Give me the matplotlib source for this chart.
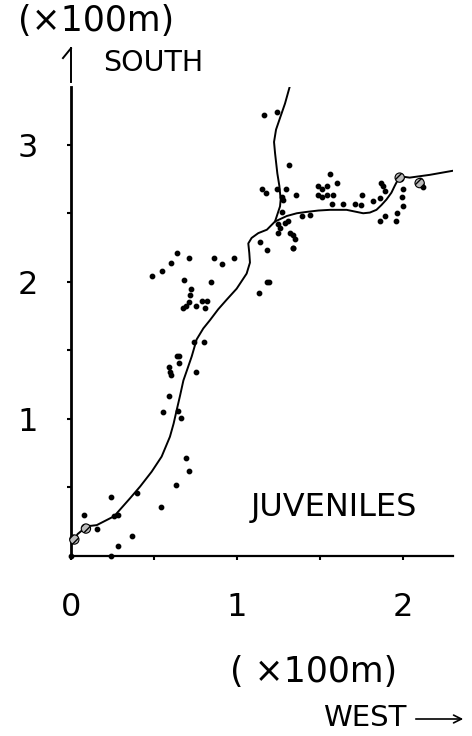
import matplotlib
matplotlib.use("Agg")
import matplotlib.pyplot as plt

# fitted track (x = west, y = south), units of 100 m
track_x = [0.0, 0.02, 0.04, 0.07, 0.09, 0.12, 0.155, 0.26, 0.355, 0.416, 0.486,
           0.546, 0.596, 0.618, 0.637, 0.657, 0.677, 0.70, 0.727, 0.757, 0.797, 0.837,
           0.887, 0.938, 0.998, 1.058, 1.078, 1.074, 1.068, 1.088, 1.128, 1.18,
           1.229, 1.30, 1.36, 1.42, 1.49, 1.56, 1.66, 1.72, 1.76, 1.80, 1.84, 1.87,
           1.90, 1.93, 1.95, 1.98, 2.04, 2.10, 2.16, 2.23, 2.30]
track_y = [0.08, 0.12, 0.16, 0.19, 0.22, 0.22, 0.225, 0.29, 0.42, 0.506, 0.615,
           0.725, 0.87, 0.965, 1.066, 1.17, 1.28, 1.36, 1.455, 1.58, 1.66, 1.72,
           1.80, 1.87, 1.95, 2.06, 2.14, 2.21, 2.28, 2.32, 2.355, 2.38,
           2.44, 2.48, 2.50, 2.51, 2.52, 2.525, 2.525, 2.51, 2.50, 2.505, 2.525, 2.56,
           2.60, 2.65, 2.70, 2.77, 2.76, 2.77, 2.78, 2.795, 2.81]

# northward branch leaving the main track
branch_x = [1.229, 1.259, 1.263, 1.255, 1.243, 1.229, 1.223, 1.235, 1.259, 1.289, 1.319]
branch_y = [2.44, 2.55, 2.60, 2.70, 2.79, 2.94, 3.02, 3.11, 3.195, 3.30, 3.43]

# individual fixes
fix_x = [0.0, 0.24, 0.08, 0.155, 0.24, 0.285, 0.26, 0.40, 0.366, 0.285, 0.54, 0.633,
         0.711, 0.691, 0.663, 0.643, 0.556, 0.59,
         0.60, 0.596, 0.59, 0.652, 0.64, 0.65, 0.753, 0.743, 0.80,
         0.677, 0.69, 0.713, 0.717, 0.721, 0.753, 0.787, 0.817, 0.809,
         0.681, 0.843, 0.486, 0.55, 0.602, 0.64, 0.713, 0.863, 0.91, 0.982,
         1.133, 1.179, 1.19, 1.14, 1.179, 1.336,
         1.165, 1.243, 1.313, 1.149, 1.175, 1.239, 1.293, 1.273, 1.28, 1.354,
         1.273, 1.249, 1.259, 1.249, 1.289, 1.31, 1.319, 1.339, 1.349, 1.339,
         1.39, 1.44, 1.49, 1.51, 1.54, 1.49, 1.51, 1.545, 1.56, 1.60, 1.576,
         1.57, 1.64, 1.71, 1.75, 1.745, 1.82, 1.86, 1.87, 1.88, 1.89,
         1.86, 1.89, 1.96, 1.966, 2.00, 1.996, 2.00, 2.10, 2.11, 2.12]
fix_y = [0.0, 0.0, 0.30, 0.20, 0.43, 0.30, 0.29, 0.46, 0.146, 0.073, 0.36, 0.52,
         0.62, 0.715, 1.005, 1.06, 1.05, 1.17,
         1.32, 1.345, 1.38, 1.41, 1.46, 1.46, 1.34, 1.56, 1.56,
         1.81, 1.82, 1.856, 1.905, 1.947, 1.82, 1.86, 1.86, 1.81,
         2.01, 1.995, 2.04, 2.08, 2.14, 2.21, 2.17, 2.17, 2.13, 2.17,
         1.92, 1.995, 2.0, 2.29, 2.23, 2.25,
         3.22, 3.24, 2.85, 2.68, 2.65, 2.68, 2.68, 2.62, 2.60, 2.635,
         2.51, 2.42, 2.39, 2.355, 2.43, 2.44, 2.355, 2.34, 2.31, 2.25,
         2.48, 2.49, 2.70, 2.68, 2.70, 2.635, 2.62, 2.635, 2.79, 2.72, 2.635,
         2.57, 2.57, 2.57, 2.635, 2.56, 2.59, 2.61, 2.72, 2.70, 2.66,
         2.44, 2.48, 2.44, 2.50, 2.55, 2.62, 2.68, 2.745, 2.71, 2.69]

# overlapping clusters drawn as hatched blobs
blob_x = [0.02, 0.09, 1.98, 2.10]
blob_y = [0.12, 0.20, 2.76, 2.72]

x_ticks = [0, 0.5, 1, 1.5, 2]
x_labels = ["0", "", "1", "", "2"]
y_ticks = [0.5, 1, 1.5, 2, 2.5, 3]
y_labels = ["", "1", "", "2", "", "3"]

plt.rcParams["font.family"] = ["DejaVu Sans"]

fig = plt.figure(figsize=(4.72, 7.36), dpi=100)
ax = fig.add_axes([0.1504, 0.2446, 0.809, 0.637])

ax.plot(track_x, track_y, color="black", lw=1.4, zorder=3)
ax.plot(branch_x, branch_y, color="black", lw=1.4, zorder=3)
ax.scatter(fix_x, fix_y, s=10, color="black", zorder=4, clip_on=False)
ax.scatter(blob_x, blob_y, s=45, facecolor="#bbbbbb", edgecolor="black",
           hatch="////", linewidth=0.8, zorder=5, clip_on=False)

ax.set_xlim(0, 2.30)
ax.set_ylim(0, 3.42)
ax.spines["top"].set_visible(False)
ax.spines["right"].set_visible(False)
ax.spines["left"].set_linewidth(2.0)
ax.spines["bottom"].set_linewidth(1.6)

ax.set_xticks(x_ticks, x_labels)
ax.set_yticks(y_ticks, y_labels)
ax.tick_params(axis="x", length=3, width=1.5, pad=23, labelsize=23)
ax.tick_params(axis="y", length=3, width=1.5, pad=21, labelsize=23)

ax.text(0.688, 0.104, "JUVENILES", fontsize=23, ha="center", va="center",
        transform=ax.transAxes)

# axis captions
fig.text(96 / 472, 1 - 21 / 736, "(×100m)", fontsize=25, ha="center", va="center")
fig.text(103 / 472, 1 - 63 / 736, "SOUTH", fontsize=20.5, ha="left", va="center")
fig.text(314 / 472, 1 - 672 / 736, "( ×100m)", fontsize=25, ha="center", va="center")
fig.text(323 / 472, 1 - 718 / 736, "WEST", fontsize=21, ha="left", va="center")
fig.add_artist(matplotlib.patches.FancyArrowPatch(
    (413 / 472, 1 - 719 / 736), (466 / 472, 1 - 719 / 736),
    transform=fig.transFigure, arrowstyle="->", mutation_scale=14, lw=1.2,
    color="black"))

# half-barbed arrow above the y axis
ax.plot([0, 0], [1.011, 1.083], color="black", lw=1.4,
        transform=ax.transAxes, clip_on=False)
ax.plot([-0.021, 0], [1.062, 1.083], color="black", lw=1.4,
        transform=ax.transAxes, clip_on=False)

fig.savefig("out.png", dpi=100)
